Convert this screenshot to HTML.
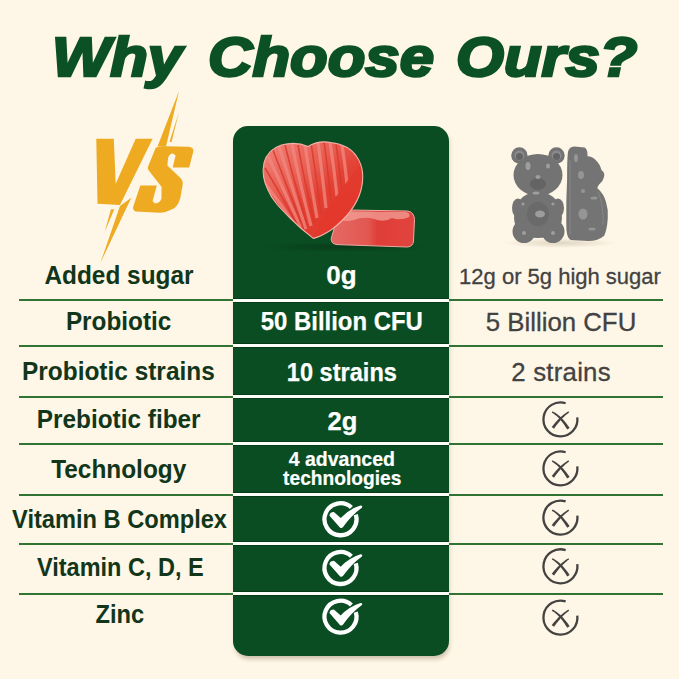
<!DOCTYPE html>
<html><head><meta charset="utf-8">
<style>
html,body{margin:0;padding:0;}
body{width:679px;height:679px;overflow:hidden;background:#FEF6E6;position:relative;font-family:"Liberation Sans",sans-serif;}
.abs{position:absolute;}
.tw{position:absolute;top:21.5px;font-size:55px;line-height:70px;font-weight:bold;font-style:italic;color:#0B5125;white-space:nowrap;-webkit-text-stroke:2.6px #0B5125;transform-origin:0 0;transform:scaleX(1.12);}
.col{position:absolute;left:233px;top:126px;width:216px;height:529.5px;background:#0A4D22;border-radius:15px;box-shadow:1px 4px 4px -1px rgba(90,70,40,0.3);}
.line{position:absolute;height:2px;background:#317332;}
.sep{position:absolute;left:233px;width:216px;height:3px;background:#FCFEF8;box-shadow:0 -1px 0 #073A16,0 1px 0 #073A16;}
.lab{position:absolute;width:300px;text-align:center;font-weight:bold;color:#11361A;font-size:25.2px;line-height:30px;white-space:nowrap;}
.lab span{display:inline-block;transform-origin:50% 50%;}
.mid{position:absolute;left:234px;width:215px;text-align:center;font-weight:bold;color:#FFFFFF;font-size:24px;line-height:30px;white-space:nowrap;}
.rt{position:absolute;left:453.5px;width:215px;text-align:center;color:#424242;font-size:25.8px;line-height:30px;white-space:nowrap;-webkit-text-stroke:0.3px #424242;}
svg{position:absolute;overflow:visible;}
.mid2{position:absolute;width:300px;text-align:center;font-weight:bold;color:#FFFFFF;font-size:26.5px;line-height:30px;white-space:nowrap;-webkit-text-stroke:0.25px #FFFFFF;}
.mid2 span{display:inline-block;transform-origin:50% 50%;}
</style></head>
<body>
<!-- title -->
<div class="tw" style="left:52px">Why</div>
<div class="tw" style="left:207.5px">Choose</div>
<div class="tw" style="left:456px">Ours?</div>

<!-- VS logo -->
<svg class="abs" style="left:0;top:0" width="679" height="300" viewBox="0 0 679 300">
  <g fill="#EEAA20">
    <path d="M96.3,138.8 L113.8,138.8 L115.7,183.8 L135.7,138.8 L152.6,138.8 L120,205.1 L97.5,203.8 Z"/>
    <path d="M163.9,146.2 L188.6,146.8 Q194,147.5 193.3,151.5 L189.2,167.4 L172.7,167.4 L175.6,155.6 Q173,152.5 170.9,153.8 Q168,156 168,158.6 L167.4,165.6 L178.6,176.2 Q183.5,180 182.7,184.5 L180.4,197.4 Q178,207 172.1,209.2 Q166,212.5 160.3,212.7 L135.6,211.6 Q132.5,210 133.2,206.8 L140.3,185.6 L156.8,185.6 L152.7,200.4 Q153.5,203.5 156.8,203.3 Q160.5,202 161.5,198.6 L161.5,186.8 L148.6,170.3 Q147.5,168.5 148,166.8 L155.6,148 Q158,146 163.9,146.2 Z"/>
    <path d="M179,91 L166,146.5 L157.5,146.5 Z"/>
    <path d="M179,112 L171.5,142 L169.5,142 Z"/>
    <path d="M131.3,197.8 L120,206 L100.5,262.7 Z"/>
    <path d="M111,209.2 L114.3,209.2 L104.6,231.9 Z"/>
  </g>
</svg>

<!-- green column -->
<div class="col"></div>


<!-- gummies -->
<svg style="left:0;top:0" width="679" height="300" viewBox="0 0 679 300">
  <defs>
    <linearGradient id="hg" x1="0.1" y1="0.1" x2="0.8" y2="0.9">
      <stop offset="0" stop-color="#EE7A70"/>
      <stop offset="0.35" stop-color="#E95E52"/>
      <stop offset="0.6" stop-color="#E34236"/>
      <stop offset="1" stop-color="#DF382C"/>
    </linearGradient>
    <linearGradient id="dg" x1="0" y1="0" x2="1" y2="0">
      <stop offset="0" stop-color="#E56A64"/>
      <stop offset="0.45" stop-color="#E25650"/>
      <stop offset="0.55" stop-color="#E03E38"/>
      <stop offset="1" stop-color="#E0443E"/>
    </linearGradient>
    <clipPath id="hc"><path d="M308,146.5 C315,142 323,141 331,142.5 C343,144 352,149 357,157 C363,166 364,178 361,190 C357,205 347,218 331,230 C325,234 319,237 313.3,238.4 C305,232 297,225 290,218 C280,208 272,200 268,190 C264,182 262,172 264,163 C266,155 272,148 281.5,145 C291,142.5 300,143 308,146.5 Z"/></clipPath>
    <radialGradient id="sh" cx="0.5" cy="0.5" r="0.5">
      <stop offset="0" stop-color="#052a12" stop-opacity="0.5"/>
      <stop offset="1" stop-color="#052a12" stop-opacity="0"/>
    </radialGradient>
  </defs>
  <ellipse cx="345" cy="247" rx="85" ry="5" fill="url(#sh)"/>
  <!-- disc -->
  <path d="M350.8,210 L407.5,211 Q414,212 414.5,219.3 L413.5,241 Q413,246.5 407.5,247 L337,244.6 Q331,244 331.2,238.5 L334.5,227.4 Q338,211 350.8,210 Z" fill="url(#dg)" stroke="#EFA8A0" stroke-width="1"/>
  <path d="M350,211.5 L406,212 Q411,213 409,217 Q400,221 392,218 Q384,223 374,219 Q364,216 354,220 Q346,222 340,220 Q343,212 350,211.5 Z" fill="#F2A098" opacity="0.75"/>
  <!-- heart -->
  <path d="M308,146.5 C315,142 323,141 331,142.5 C343,144 352,149 357,157 C363,166 364,178 361,190 C357,205 347,218 331,230 C325,234 319,237 313.3,238.4 C305,232 297,225 290,218 C280,208 272,200 268,190 C264,182 262,172 264,163 C266,155 272,148 281.5,145 C291,142.5 300,143 308,146.5 Z" fill="url(#hg)"/>
  <g clip-path="url(#hc)" fill="none">
    <g stroke="#F28A80" stroke-width="3.2" opacity="0.75">
      <path d="M262,180 Q278,200 296,226"/>
      <path d="M268,156 Q282,186 301,228"/>
      <path d="M279,146 Q290,182 306,229"/>
      <path d="M292,144 Q299,180 311,226"/>
      <path d="M305,145 Q310,178 317,218"/>
      <path d="M318,142 Q322,172 326,208"/>
      <path d="M330,142 Q334,168 337,196"/>
      <path d="M342,145 Q345,164 347,184"/>
    </g>
    <g stroke="#D93A2E" stroke-width="1.6" opacity="0.85">
      <path d="M265,168 Q280,193 298,226"/>
      <path d="M273,150 Q286,184 303,228"/>
      <path d="M285,145 Q294,181 308,228"/>
      <path d="M298,145 Q304,179 314,222"/>
      <path d="M311,143 Q316,175 321,213"/>
      <path d="M324,142 Q328,170 331,202"/>
      <path d="M336,143 Q339,166 342,190"/>
    </g>
    <path d="M364,172 C364,190 355,208 340,222 C330,230 320,235 313,238.4 C318,226 326,210 338,194 C346,182 356,170 364,160 Z" fill="#E2392C" opacity="0.92"/>
  </g>
  <path d="M308,146.5 C315,142 323,141 331,142.5 C343,144 352,149 357,157 C363,166 364,178 361,190 C357,205 347,218 331,230 C325,234 319,237 313.3,238.4 C305,232 297,225 290,218 C280,208 272,200 268,190 C264,182 262,172 264,163 C266,155 272,148 281.5,145 C291,142.5 300,143 308,146.5 Z" fill="none" stroke="#F3B0A6" stroke-width="1.1"/>
</svg>
<svg style="left:0;top:0" width="679" height="300" viewBox="0 0 679 300">
  <defs>
    <radialGradient id="bs" cx="0.5" cy="0.5" r="0.5">
      <stop offset="0" stop-color="#b8ad98" stop-opacity="0.45"/>
      <stop offset="1" stop-color="#b8ad98" stop-opacity="0"/>
    </radialGradient>
  </defs>
  <ellipse cx="560" cy="243" rx="58" ry="5" fill="url(#bs)"/>
  <defs>
    <radialGradient id="bg1" cx="0.45" cy="0.4" r="0.7">
      <stop offset="0" stop-color="#6a6a6a"/>
      <stop offset="0.7" stop-color="#727272"/>
      <stop offset="1" stop-color="#8a8a8a"/>
    </radialGradient>
  </defs>
  <g fill="#737373">
    <circle cx="519.4" cy="155.5" r="8.2"/>
    <circle cx="556.5" cy="155.5" r="8.2"/>
    <ellipse cx="538" cy="175" rx="24.5" ry="21"/>
    <ellipse cx="538" cy="208" rx="21" ry="16"/>
    <ellipse cx="538" cy="218" rx="24" ry="20"/>
    <ellipse cx="518" cy="208" rx="6" ry="9.5"/>
    <ellipse cx="558" cy="208" rx="6" ry="9.5"/>
    <circle cx="524" cy="231.5" r="11.5"/>
    <circle cx="553" cy="231.5" r="11.5"/>
  </g>
  <g fill="#8e8e8e" opacity="0.9">
    <circle cx="519.4" cy="155.5" r="5"/>
    <circle cx="556.5" cy="155.5" r="5"/>
  </g>
  <g fill="#646464">
    <circle cx="519.4" cy="156.5" r="3.5"/>
    <circle cx="556.5" cy="156.5" r="3.5"/>
    <ellipse cx="538" cy="184" rx="8" ry="6"/>
    <ellipse cx="538" cy="214" rx="11" ry="12" opacity="0.6"/>
  </g>
  <g fill="#a6a6a6" opacity="0.85">
    <ellipse cx="528" cy="166" rx="2.5" ry="4"/>
    <ellipse cx="548" cy="166" rx="2" ry="2.5"/>
    <ellipse cx="538" cy="177" rx="2.5" ry="2"/>
    <ellipse cx="540" cy="214" rx="5" ry="3.5"/>
    <circle cx="524" cy="233" r="2"/>
    <circle cx="553" cy="233" r="2"/>
    <circle cx="523" cy="204" r="1.6"/>
    <circle cx="553" cy="204" r="1.6"/>
    <ellipse cx="536" cy="193" rx="3.5" ry="1.5"/>
  </g>
  <!-- side bear -->
  <path d="M568,151.8 Q569,147 574.2,146.5 L584.8,147.4 Q588,150 587.5,156.2 Q592,156 595.4,159.7 Q600,164 601.6,170.3 Q605,173 604.2,176 Q603,181 600.7,182.7 Q598,185 597.2,188 Q604,194 606,202.1 Q608.5,210 607.8,218 Q607,230 604.2,235.7 Q598,241 588.3,241 L570.7,240.1 Q566,238 566.3,223.3 Q566,200 567.1,179.2 Q567,160 568,151.8 Z" fill="#747474"/>
  <g fill="#a0a0a0" opacity="0.75">
    <ellipse cx="581" cy="175" rx="3" ry="4"/>
    <ellipse cx="583" cy="214" rx="4.5" ry="5.5"/>
    <ellipse cx="594" cy="198" rx="3.5" ry="1.5"/>
    <ellipse cx="592" cy="229" rx="3.5" ry="1.5"/>
    <ellipse cx="583" cy="191" rx="2" ry="2"/>
    <ellipse cx="576" cy="158" rx="2" ry="4"/>
  </g>
  <g fill="none" stroke="#8c8c8c" stroke-width="1" opacity="0.8">
    <path d="M570,160 L570,235"/>
    <path d="M598,192 Q604,205 603,225"/>
  </g>
</svg>

<!-- lines -->
<div class="line" style="left:19px;width:214px;top:299px"></div>
<div class="line" style="left:448px;width:215px;top:299px"></div>
<div class="sep" style="top:299px"></div>
<div class="line" style="left:19px;width:214px;top:345px"></div>
<div class="line" style="left:448px;width:215px;top:345px"></div>
<div class="sep" style="top:344px"></div>
<div class="line" style="left:19px;width:214px;top:396px"></div>
<div class="line" style="left:448px;width:215px;top:396px"></div>
<div class="sep" style="top:395px"></div>
<div class="line" style="left:19px;width:214px;top:443px"></div>
<div class="line" style="left:448px;width:215px;top:443px"></div>
<div class="sep" style="top:442px"></div>
<div class="line" style="left:19px;width:214px;top:494px"></div>
<div class="line" style="left:448px;width:215px;top:494px"></div>
<div class="sep" style="top:493px"></div>
<div class="line" style="left:19px;width:214px;top:543px"></div>
<div class="line" style="left:448px;width:215px;top:543px"></div>
<div class="sep" style="top:542px"></div>
<div class="line" style="left:19px;width:214px;top:593px"></div>
<div class="line" style="left:448px;width:215px;top:593px"></div>
<div class="sep" style="top:592px"></div>

<!-- labels -->
<div class="lab" style="left:-31.10px;top:259.81px"><span style="transform:scaleX(0.968)">Added sugar</span></div>
<div class="lab" style="left:-31.43px;top:306.41px"><span style="transform:scaleX(0.965)">Probiotic</span></div>
<div class="lab" style="left:-31.60px;top:356.01px"><span style="transform:scaleX(0.97)">Probiotic strains</span></div>
<div class="lab" style="left:-31.28px;top:403.61px"><span style="transform:scaleX(0.967)">Prebiotic fiber</span></div>
<div class="lab" style="left:-31.30px;top:453.61px"><span style="transform:scaleX(0.968)">Technology</span></div>
<div class="lab" style="left:-30.60px;top:504.01px"><span style="transform:scaleX(0.938)">Vitamin B Complex</span></div>
<div class="lab" style="left:-29.53px;top:551.51px"><span style="transform:scaleX(0.933)">Vitamin C, D, E</span></div>
<div class="lab" style="left:-29.80px;top:598.91px"><span style="transform:scaleX(0.94)">Zinc</span></div>

<!-- middle -->
<div class="mid2" style="left:191.56px;top:260.05px"><span style="transform:scaleX(0.98)">0g</span></div>
<div class="mid2" style="left:192.00px;top:306.25px"><span style="transform:scaleX(0.902)">50 Billion CFU</span></div>
<div class="mid2" style="left:191.56px;top:356.85px"><span style="transform:scaleX(0.889)">10 strains</span></div>
<div class="mid2" style="left:192.35px;top:405.85px"><span style="transform:scaleX(0.965)">2g</span></div>
<div class="mid2" style="left:191.40px;top:449.00px;font-size:20.5px;line-height:20px;-webkit-text-stroke:0.2px #fff"><span style="transform:scaleX(0.952)">4 advanced</span></div>
<div class="mid2" style="left:192.55px;top:467.70px;font-size:20.5px;line-height:20px;-webkit-text-stroke:0.2px #fff"><span style="transform:scaleX(0.935)">technologies</span></div>

<!-- right -->
<div class="rt" style="top:262.3px;font-size:22px;left:452.5px">12g or 5g high sugar</div>
<div class="rt" style="top:307px">5 Billion CFU</div>
<div class="rt" style="top:357px;letter-spacing:0.25px">2 strains</div>


<!-- icons -->
<svg width="0" height="0" style="position:absolute">
  <defs>
    <g id="chk">
      <path d="M15.30,-4.68 A16,16 0 1 1 10.91,-11.70" fill="none" stroke="#FFFFFF" stroke-width="4.3"/>
      <path d="M-11,-3.6 Q-11.2,-6.8 -6.6,-7.2 L0.2,-1.2 Q8,-10 20,-13.8 Q22.6,-13.8 21.4,-11.6 Q11,-4 2.6,7.8 Q0.8,9.8 -0.8,8 Z" fill="#FFFFFF"/>
    </g>
    <g id="xx">
      <path d="M16.9,-2.07 A17,17 0 1 1 5.25,-16.17" fill="none" stroke="#444341" stroke-width="2.3"/>
      <path d="M-8.59,-6.89 L-7.54,-6.22 L-6.50,-5.50 L-5.48,-4.73 L-4.46,-3.91 L-3.46,-3.03 L-2.48,-2.10 L-1.50,-1.12 L-0.54,-0.08 L0.41,1.01 L1.36,2.16 L2.29,3.35 L3.20,4.61 L4.11,5.91 L5.01,7.28 L5.89,8.69 L6.77,10.16 L9.23,8.64 L8.25,7.16 L7.25,5.75 L6.24,4.39 L5.21,3.08 L4.18,1.83 L3.14,0.64 L2.08,-0.49 L1.01,-1.57 L-0.07,-2.59 L-1.16,-3.55 L-2.26,-4.46 L-3.37,-5.30 L-4.49,-6.09 L-5.62,-6.82 L-6.76,-7.50 L-7.91,-8.11 Z" fill="#444341"/>
      <path d="M7.98,-8.09 L6.90,-7.42 L5.83,-6.71 L4.77,-5.96 L3.71,-5.17 L2.65,-4.33 L1.60,-3.46 L0.55,-2.54 L-0.50,-1.58 L-1.54,-0.59 L-2.57,0.45 L-3.60,1.53 L-4.62,2.66 L-5.64,3.82 L-6.66,5.02 L-7.67,6.27 L-8.67,7.55 L-6.33,9.25 L-5.43,7.95 L-4.52,6.69 L-3.61,5.47 L-2.69,4.28 L-1.77,3.14 L-0.84,2.03 L0.09,0.96 L1.03,-0.07 L1.97,-1.06 L2.92,-2.01 L3.87,-2.92 L4.84,-3.80 L5.80,-4.63 L6.78,-5.43 L7.76,-6.19 L8.74,-6.91 Z" fill="#444341"/>
    </g>
  </defs>
</svg>
<svg style="left:0;top:0" width="679" height="679" viewBox="0 0 679 679">
  <use href="#chk" x="340.5" y="519.25"/>
  <use href="#chk" x="340.5" y="568"/>
  <use href="#chk" x="340.5" y="616.7"/>
  <use href="#xx" x="560.4" y="419.4"/>
  <use href="#xx" x="560.4" y="468.4"/>
  <use href="#xx" x="560.4" y="517.6"/>
  <use href="#xx" x="560.4" y="566.3"/>
  <use href="#xx" x="560.4" y="617.6"/>
</svg>
</body></html>
